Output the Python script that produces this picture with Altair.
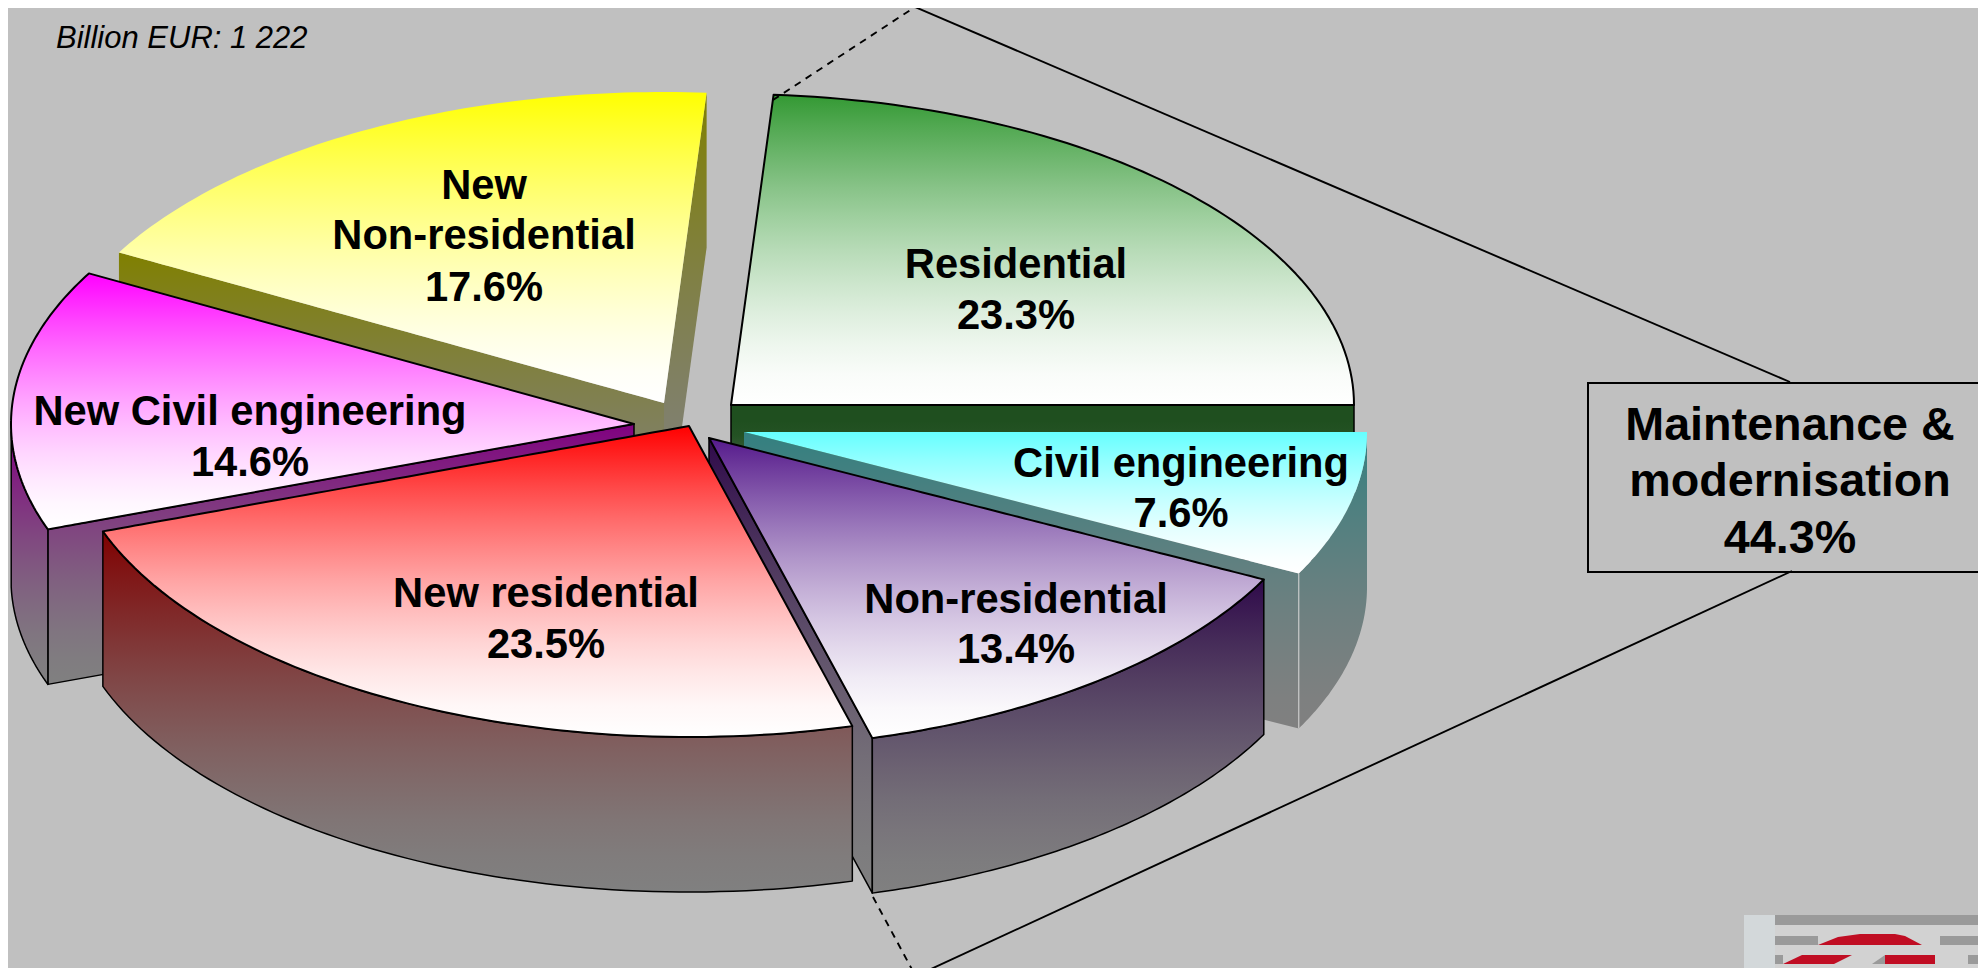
import altair as alt
import numpy as np
import pandas as pd

# ---- chart values (counter-clockwise from the horizontal right radius)
segments = ["Residential", "New Non-residential", "New Civil engineering",
            "New residential", "Non-residential", "Civil engineering"]
shares = [23.3, 17.6, 14.6, 23.5, 13.4, 7.6]
maintenance_share = 44.3
total_label = "Billion EUR: 1 222"

# ---- pie projection (layout, in reference pixels)
W, H, M = 1970, 960, 8
BG = "#c0c0c0"
RX, RY, DEPTH = 623, 311, 155
apex = [(731, 405), (664, 403), (634, 424), (689, 426), (709, 438), (744, 432)]
top_col = ["#339933", "#ffff00", "#ff00ff", "#ff0000", "#551a8b", "#66ffff"]
wall_col = ["#1f4f1f", "#808000", "#800080", "#800000", "#2f0a4a", "#338080"]
outlined = [True, False, True, True, True, False]
# which walls are seen: right-hand radius, left-hand radius, outer rim from angle
wall_spec = [
    dict(start=True),
    dict(start=True, end=True),
    dict(end=True, rim_from=180),
    dict(rim_from=0),
    dict(start=True, rim_from=0),
    dict(start=True, rim_from=0),
]

xs = alt.Scale(domain=[M, M + W], nice=False, zero=False)
ys = alt.Scale(domain=[M + H, M], nice=False, zero=False)

edges = np.cumsum([0] + shares) * 3.6


def warp(t):
    # slight perspective of the pie
    return t + np.interp(t, [0, 83.9, 147.3, 199.9, 284.5, 332.6, 360],
                         [0, 2.2, 3.8, 0, 0.8, 0.3, 0])


def arc(i, t0, t1, n=70):
    ts = warp(np.linspace(t0, t1, n))
    r = np.radians(ts)
    ax, ay = apex[i]
    return [(ax + RX * np.cos(a), ay - RY * np.sin(a)) for a in r]


def x_profile(poly):
    pts = np.array(poly, float)
    xv = np.unique(np.round(pts[:, 0], 2))
    nxt = np.roll(pts, -1, axis=0)
    rows = []
    for x in xv:
        hits = []
        for (x0, y0), (x1, y1) in zip(pts, nxt):
            lo, hi = min(x0, x1), max(x0, x1)
            if lo - 0.006 <= x <= hi + 0.006:
                if abs(x1 - x0) < 1e-6:
                    hits += [y0, y1]
                else:
                    s = min(1, max(0, (x - x0) / (x1 - x0)))
                    hits.append(y0 + s * (y1 - y0))
        rows.append((x, min(hits), max(hits)))
    return pd.DataFrame(rows, columns=["x", "y", "y2"])


def hex_rgb(c):
    return np.array([int(c[k:k + 2], 16) for k in (1, 3, 5)], float)


def grad(c0, c1="#ffffff", start=0.0):
    # colour runs towards the end colour quickly at first, then eases out
    a, b = hex_rgb(c0), hex_rgb(c1)
    stops = []
    for t in np.linspace(0, 1, 11):
        u = max(0.0, (t - start) / (1 - start))
        m = a + (b - a) * (1 - (1 - u) ** 1.5)
        stops.append(alt.GradientStop(
            offset=float(t),
            color="#%02x%02x%02x" % tuple(int(round(v)) for v in m),
        ))
    return alt.Gradient(gradient="linear", x1=0, x2=0, y1=0, y2=1, stops=stops)


def face(poly, fill, outline, sw=2.0):
    kw = dict(stroke="#000000", strokeWidth=sw, strokeJoin="round") if outline else {}
    return alt.Chart(x_profile(poly)).mark_area(
        orient="vertical", color=fill, interpolate="linear", clip=True, **kw
    ).encode(
        x=alt.X("x:Q", scale=xs, axis=None),
        y=alt.Y("y:Q", scale=ys, axis=None),
        y2="y2:Q",
    )


def band(chain):
    return list(chain) + [(x, y + DEPTH) for x, y in reversed(chain)]


def line_layer(points, color="#000000", width=1.9, dash=None):
    df = pd.DataFrame(points, columns=["x", "y"]).assign(o=range(len(points)))
    kw = dict(strokeDash=dash) if dash else {}
    return alt.Chart(df).mark_line(
        color=color, strokeWidth=width, clip=True, **kw
    ).encode(
        x=alt.X("x:Q", scale=xs, axis=None),
        y=alt.Y("y:Q", scale=ys, axis=None),
        order="o:Q",
    )


layers = []

# ---- slices, back to front
draw_order = [0, 1, 2, 5, 4, 3]
for i in draw_order:
    t0, t1 = edges[i], edges[i + 1]
    spec = wall_spec[i]
    ap = apex[i]
    a = arc(i, t0, t1)
    wall_fill = grad(wall_col[i], "#808080", 0.17 if i == 0 else 0.0)
    if spec.get("start"):
        layers.append(face(band([ap, a[0]]), wall_fill, outlined[i], 1.5))
    if spec.get("end"):
        layers.append(face(band([ap, a[-1]]), wall_fill, outlined[i], 1.5))
    if "rim_from" in spec:
        lo = t0 if spec["rim_from"] == 0 else spec["rim_from"]
        layers.append(face(band(arc(i, lo, t1)), wall_fill, outlined[i], 1.5))
    if i == 5:
        e = arc(i, t0, t0, 1)[0]
        layers.append(line_layer([e, (e[0], e[1] + DEPTH)], "#d8d8d8", 1))
    layers.append(face([ap] + a, grad(top_col[i]), outlined[i]))

# ---- break-out lines and box
layers.append(line_layer([(773, 100), (915, 7)], dash=[7, 6]))
layers.append(line_layer([(873, 897), (915, 975)], dash=[7, 6]))
layers.append(line_layer([(915, 7), (1790, 382)]))
layers.append(line_layer([(918, 975), (1792, 571)]))
box = pd.DataFrame({"x": [1588], "x2": [2000], "y": [383], "y2": [572]})
layers.append(alt.Chart(box).mark_rect(
    fillOpacity=0, stroke="#000000", strokeWidth=2, clip=True
).encode(
    x=alt.X("x:Q", scale=xs, axis=None), x2="x2:Q",
    y=alt.Y("y:Q", scale=ys, axis=None), y2="y2:Q",
))

# ---- logo fragment, bottom right
logo_rects = pd.DataFrame(
    [
        (1744, 1980, 915, 976, "#d2d2d2"),
        (1744, 1775, 915, 976, "#d3d8da"),
        (1775, 1980, 915, 925, "#9a9a9a"),
        (1775, 1818, 936, 945, "#9a9a9a"),
        (1940, 1980, 936, 945, "#9a9a9a"),
        (1775, 1783, 955, 964, "#9a9a9a"),
        (1968, 1980, 955, 964, "#9a9a9a"),
        (1885, 1935, 955, 964, "#c00d23"),
    ],
    columns=["x", "x2", "y", "y2", "c"],
)
layers.append(alt.Chart(logo_rects).mark_rect(clip=True).encode(
    x=alt.X("x:Q", scale=xs, axis=None), x2="x2:Q",
    y=alt.Y("y:Q", scale=ys, axis=None), y2="y2:Q",
    color=alt.Color("c:N", scale=None),
))
red = "#c00d23"
layers.append(face([(1818, 945), (1922, 945), (1905, 936), (1895, 934), (1860, 934), (1838, 937)], red, False))
layers.append(face([(1783, 964), (1834, 964), (1852, 955), (1802, 955)], red, False))
layers.append(face([(1872, 964), (1885, 964), (1885, 955)], "#9a9a9a", False))

# ---- texts
bold = pd.DataFrame(
    [
        ("Residential", 1016, 265), (f"{shares[0]}%", 1016, 316),
        ("New", 484, 186), ("Non-residential", 484, 236), (f"{shares[1]}%", 484, 288),
        ("New Civil engineering", 250, 412), (f"{shares[2]}%", 250, 463),
        ("New residential", 546, 594), (f"{shares[3]}%", 546, 645),
        ("Non-residential", 1016, 600), (f"{shares[4]}%", 1016, 650),
        ("Civil engineering", 1181, 464), (f"{shares[5]}%", 1181, 514),
    ],
    columns=["t", "x", "y"],
)
layers.append(alt.Chart(bold).mark_text(
    font="Liberation Sans", fontWeight="bold", fontSize=41.7, color="#000000",
    align="center", baseline="middle",
).encode(
    x=alt.X("x:Q", scale=xs, axis=None),
    y=alt.Y("y:Q", scale=ys, axis=None),
    text="t:N",
))
box_text = pd.DataFrame(
    [("Maintenance &", 1790, 426), ("modernisation", 1790, 482), (f"{maintenance_share}%", 1790, 539)],
    columns=["t", "x", "y"],
)
layers.append(alt.Chart(box_text).mark_text(
    font="Liberation Sans", fontWeight="bold", fontSize=46.7, color="#000000",
    align="center", baseline="middle",
).encode(
    x=alt.X("x:Q", scale=xs, axis=None),
    y=alt.Y("y:Q", scale=ys, axis=None),
    text="t:N",
))
note = pd.DataFrame({"t": [total_label], "x": [56], "y": [39]})
layers.append(alt.Chart(note).mark_text(
    font="Liberation Sans", fontStyle="italic", fontSize=31, color="#000000",
    align="left", baseline="middle",
).encode(
    x=alt.X("x:Q", scale=xs, axis=None),
    y=alt.Y("y:Q", scale=ys, axis=None),
    text="t:N",
))

chart = alt.layer(*layers).properties(
    width=W, height=H, padding=0, background=BG
).configure_view(stroke=None)

chart.save("out.html", embed_options={"renderer": "svg", "actions": False})
